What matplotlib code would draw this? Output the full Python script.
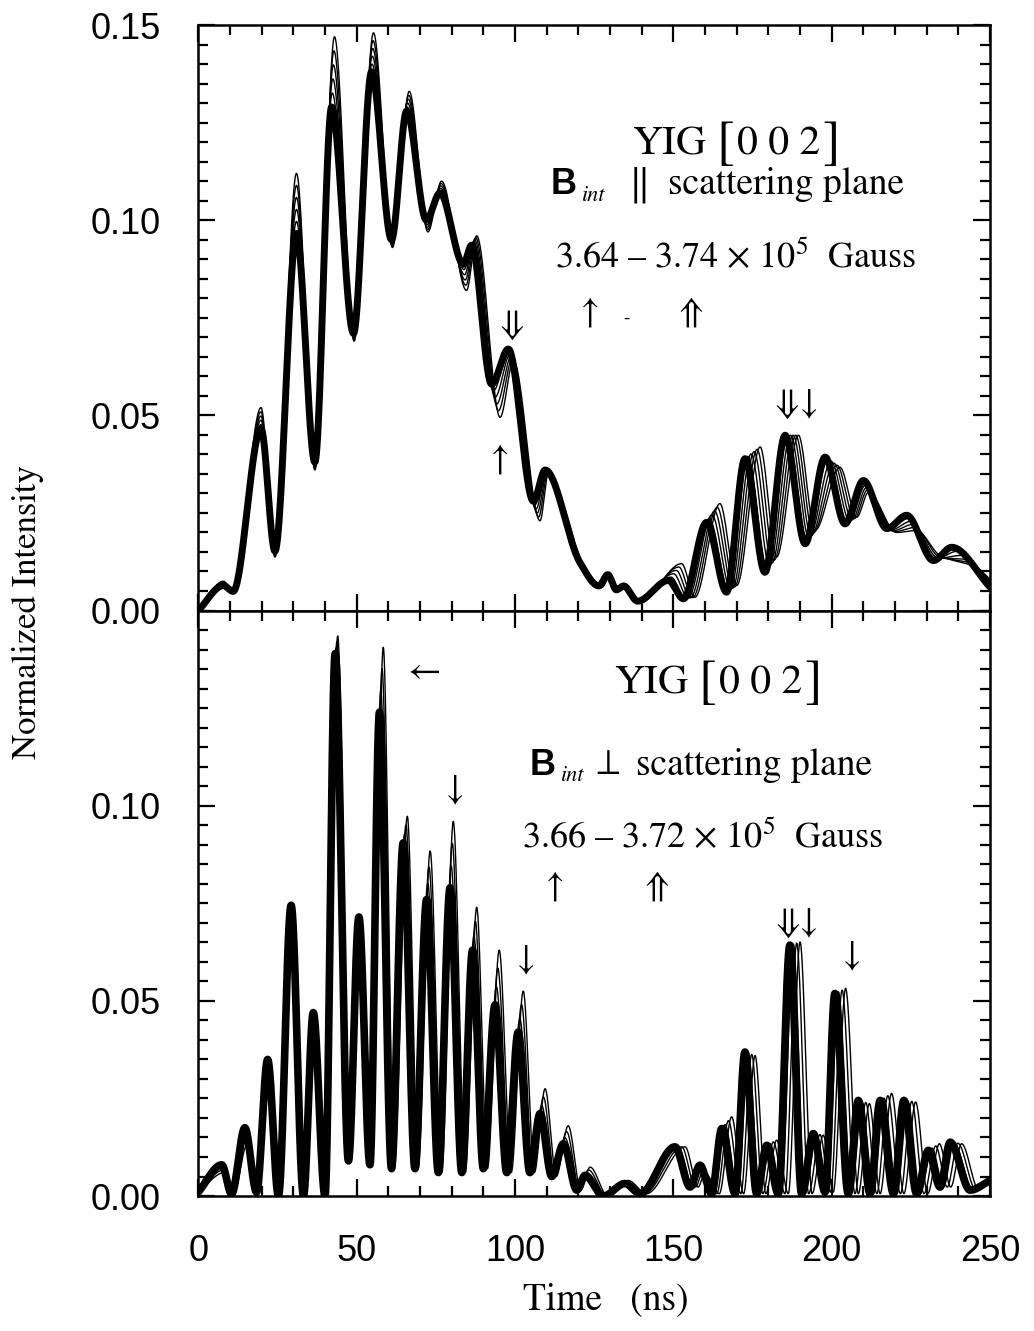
import numpy as np
import matplotlib
matplotlib.use("Agg")
import matplotlib.pyplot as plt
from matplotlib.ticker import MultipleLocator

# ---- data: extrema of the curves (time ns, intensity) ----
# top panel, B_int parallel to scattering plane
top_thick_t = [0.0, 7.9, 11.0, 19.8, 24.2, 31.0, 36.8, 42.1, 49.0, 54.7, 61.0, 65.8,
               72.0, 76.3, 83.7, 86.3, 92.6, 97.9, 105.8, 109.5, 120.5, 126.5, 129.3,
               132.0, 134.3, 138.7, 148.4, 153.2, 160.5, 166.8, 172.6, 178.9, 185.3,
               191.6, 197.9, 204.2, 210.0, 217.4, 223.7, 232.1, 237.9, 250.0]
top_thick_y = [0.0, 0.0064, 0.0049, 0.0466, 0.0152, 0.0966, 0.038, 0.129, 0.071, 0.138,
               0.095, 0.128, 0.100, 0.107, 0.0887, 0.0936, 0.058, 0.067, 0.028, 0.036,
               0.0123, 0.0063, 0.0092, 0.0053, 0.0063, 0.0024, 0.0077, 0.003, 0.0226,
               0.0047, 0.0389, 0.0098, 0.0449, 0.0171, 0.0393, 0.0222, 0.0333, 0.021,
               0.0244, 0.0128, 0.0162, 0.006]
top_thin_t = [0.0, 7.9, 11.0, 19.8, 24.2, 31.0, 36.8, 43.0, 49.2, 55.3, 61.3, 66.6,
              72.5, 76.8, 84.7, 87.9, 95.3, 99.5, 107.9, 110.5, 121.5, 127.5, 130.0,
              132.8, 135.2, 139.5, 152.6, 156.8, 164.7, 170.0, 177.4, 182.6, 189.5,
              194.7, 202.6, 207.9, 211.6, 220.5, 226.8, 234.2, 245.8, 250.0]
top_thin_y = [0.0, 0.0075, 0.005, 0.052, 0.0137, 0.112, 0.036, 0.147, 0.069, 0.148,
              0.093, 0.133, 0.097, 0.110, 0.082, 0.096, 0.0495, 0.064, 0.023, 0.035,
              0.012, 0.006, 0.009, 0.005, 0.006, 0.002, 0.012, 0.0034, 0.0274, 0.0064,
              0.0419, 0.0137, 0.0449, 0.0205, 0.0367, 0.0239, 0.0303, 0.020, 0.0205,
              0.0141, 0.011, 0.008]

# bottom panel, B_int perpendicular to scattering plane
bot_thick_t = [0.0, 7.4, 10.5, 14.7, 18.4, 21.9, 25.3, 29.3, 33.2, 36.3, 40.0, 43.2,
               47.4, 50.7, 54.2, 57.2, 61.0, 64.7, 68.4, 72.1, 75.8, 79.5, 83.2, 86.6,
               90.0, 93.7, 97.4, 101.0, 104.7, 107.9, 111.6, 115.3, 119.5, 122.1, 127.9,
               134.7, 139.5, 150.5, 155.3, 158.4, 162.1, 165.3, 169.5, 172.6, 176.3,
               179.5, 183.1, 186.8, 190.5, 194.2, 197.9, 201.0, 205.2, 208.4, 212.1,
               215.3, 219.5, 222.8, 226.8, 230.5, 234.2, 237.4, 243.7, 250.0]
bot_thick_y = [0.001, 0.008, 0.0005, 0.0175, 0.001, 0.035, 0.0, 0.0745, 0.0, 0.047, 0.0,
               0.139, 0.009, 0.0715, 0.008, 0.124, 0.007, 0.0905, 0.007, 0.076, 0.006,
               0.079, 0.006, 0.063, 0.007, 0.049, 0.006, 0.042, 0.006, 0.0211, 0.005,
               0.0134, 0.0015, 0.0053, 0.0, 0.0032, 0.0006, 0.0126, 0.0023, 0.0079,
               0.0006, 0.0173, 0.0006, 0.0369, 0.0006, 0.013, 0.0006, 0.0643, 0.0006,
               0.016, 0.001, 0.0519, 0.0006, 0.0245, 0.0006, 0.0245, 0.0006, 0.0245,
               0.0006, 0.0117, 0.0023, 0.0138, 0.0015, 0.004]
bot_thin_t = [0.0, 8.2, 11.2, 15.3, 19.0, 22.3, 25.8, 29.6, 33.5, 36.6, 40.4, 44.0,
              48.0, 51.2, 54.8, 58.4, 61.8, 66.0, 69.4, 73.2, 76.9, 80.5, 84.3, 87.9,
              91.3, 95.0, 98.8, 102.6, 106.1, 109.5, 113.0, 116.8, 120.8, 123.7, 129.3,
              135.7, 141.5, 153.7, 157.8, 160.0, 164.5, 168.4, 172.2, 175.8, 179.2,
              182.6, 186.3, 190.0, 193.8, 197.3, 200.5, 204.4, 208.4, 211.9, 215.3,
              218.9, 222.8, 226.5, 230.3, 234.0, 237.6, 241.0, 246.5, 250.0]
bot_thin_y = [0.001, 0.006, 0.0005, 0.013, 0.001, 0.034, 0.0, 0.075, 0.0, 0.047, 0.0,
              0.1435, 0.009, 0.072, 0.008, 0.1406, 0.007, 0.0973, 0.007, 0.0884, 0.006,
              0.096, 0.006, 0.074, 0.007, 0.063, 0.006, 0.0525, 0.006, 0.0275, 0.005,
              0.018, 0.0015, 0.0074, 0.0, 0.004, 0.0006, 0.0126, 0.0023, 0.006, 0.0006,
              0.0203, 0.0006, 0.036, 0.0006, 0.0143, 0.0006, 0.0651, 0.0006, 0.0156,
              0.001, 0.0532, 0.0006, 0.0237, 0.0006, 0.0263, 0.0006, 0.0241, 0.0006,
              0.0134, 0.0023, 0.0134, 0.0015, 0.005]

# field steps between the thick curve and the outermost thin curve
top_steps = [0.2, 0.4, 0.6, 0.8, 1.0]
bot_steps = [0.33, 0.67, 1.0]


def pchip(x, y, xs):
    """monotone cubic through the read extrema, so peaks stay where they were read"""
    x = np.asarray(x, float)
    y = np.asarray(y, float)
    h = np.diff(x)
    d = np.diff(y) / h
    m = np.zeros_like(y)
    for k in range(1, len(x) - 1):
        if d[k - 1] * d[k] > 0:
            w1 = 2 * h[k] + h[k - 1]
            w2 = h[k] + 2 * h[k - 1]
            m[k] = (w1 + w2) / (w1 / d[k - 1] + w2 / d[k])
    m[0] = d[0]
    m[-1] = d[-1]
    i = np.clip(np.searchsorted(x, xs) - 1, 0, len(x) - 2)
    s = (xs - x[i]) / h[i]
    h00 = 2 * s**3 - 3 * s**2 + 1
    h10 = s**3 - 2 * s**2 + s
    h01 = -2 * s**3 + 3 * s**2
    h11 = s**3 - s**2
    return h00 * y[i] + h10 * h[i] * m[i] + h01 * y[i + 1] + h11 * h[i] * m[i + 1]


def draw_panel(ax, tk, yk, tn, yn, steps, lw_thick):
    tk, yk, tn, yn = map(np.asarray, (tk, yk, tn, yn))
    for f in steps:
        tt = (1 - f) * tk + f * tn
        yy = (1 - f) * yk + f * yn
        xs = np.linspace(tt[0], tt[-1], 2500)
        ax.plot(xs, pchip(tt, yy, xs), color="black", lw=1.0)
    xs = np.linspace(tk[0], tk[-1], 2500)
    ax.plot(xs, pchip(tk, yk, xs), color="black", lw=lw_thick,
            solid_capstyle="round", solid_joinstyle="round")


W, H = 1034, 1331
fig = plt.figure(figsize=(W / 100, H / 100), dpi=100)
ax1 = fig.add_axes([0.1918, 0.5413, 0.7657, 0.4399])
ax2 = fig.add_axes([0.1918, 0.1014, 0.7657, 0.4399], sharex=ax1)

draw_panel(ax1, top_thick_t, top_thick_y, top_thin_t, top_thin_y, top_steps, 5.0)
draw_panel(ax2, bot_thick_t, bot_thick_y, bot_thin_t, bot_thin_y, bot_steps, 5.5)

tick_font = {"family": "Liberation Sans", "size": 26}
for ax in (ax1, ax2):
    ax.set_xlim(0, 250)
    ax.set_ylim(0, 0.15)
    ax.xaxis.set_major_locator(MultipleLocator(50))
    ax.xaxis.set_minor_locator(MultipleLocator(10))
    ax.yaxis.set_major_locator(MultipleLocator(0.05))
    ax.yaxis.set_minor_locator(MultipleLocator(0.005))
    ax.tick_params(which="both", direction="in", top=True, right=True, width=1.6)
    ax.tick_params(which="major", length=12, pad=27)
    ax.tick_params(which="minor", length=7)
    for sp in ax.spines.values():
        sp.set_linewidth(1.8)

ax1.set_yticks([0.0, 0.05, 0.10, 0.15])
ax1.set_yticklabels(["0.00", "0.05", "0.10", "0.15"], **tick_font)
ax2.set_yticks([0.0, 0.05, 0.10])
ax2.set_yticklabels(["0.00", "0.05", "0.10"], **tick_font)
ax1.tick_params(labelbottom=False)
ax2.set_xticks([0, 50, 100, 150, 200, 250])
ax2.set_xticklabels(["0", "50", "100", "150", "200", "250"], **tick_font)


def px(x, y):
    return x / W, 1 - y / H


serif = "STIXGeneral"
plt.rcParams["mathtext.fontset"] = "stix"


def label_block(y_yig, x_yig, y_b, x_b, sym, y_g, x_g, gauss):
    fig.text(*px(x_yig, y_yig), "YIG", family=serif, fontsize=30, ha="left", va="center")
    fig.text(*px(x_yig + 84, y_yig), "[", family=serif, fontsize=38, ha="left",
             va="center")
    fig.text(*px(x_yig + 105, y_yig), "0 0 2", family=serif, fontsize=30, ha="left",
             va="center")
    fig.text(*px(x_yig + 190, y_yig), "]", family=serif, fontsize=38, ha="left",
             va="center")
    fig.text(*px(x_b, y_b), "B", family="Liberation Sans", fontweight="bold",
             fontsize=26, ha="left", va="center")
    fig.text(*px(x_b + 31, y_b + 11), "int", family=serif, style="italic",
             fontsize=16, ha="left", va="center")
    sym_dx, sym_txt, sym_fs = sym
    fig.text(*px(x_b + sym_dx, y_b), sym_txt, family=serif, fontsize=sym_fs,
             ha="center", va="center")
    fig.text(*px(x_b + sym_dx + 28, y_b), "scattering plane", family=serif,
             fontsize=27, ha="left", va="center")
    fig.text(*px(x_g, y_g), gauss, family=serif, fontsize=26, ha="left", va="center")


label_block(145, 632, 185, 551, (89, "\u2016", 30), 258, 555,
            r"3.64 – 3.74 $\times$ 10$^{5}$  Gauss")
label_block(684, 614, 765, 530, (78, "\u22a5", 26), 838, 522,
            r"3.66 – 3.72 $\times$ 10$^{5}$  Gauss")

arrows = [
    (512, 325, "\u21d3"), (500, 460, "\u2191"), (590, 313, "\u2191"),
    (691, 313, "\u21d1"), (787, 404, "\u21d3"), (809, 404, "\u2193"),
    (424, 673, "\u2190"), (455, 790, "\u2193"), (526, 960, "\u2193"),
    (555, 887, "\u2191"), (657, 887, "\u21d1"), (797, 923, "\u21d3\u2193"),
    (852, 956, "\u2193"),
]
for x, y, s in arrows:
    fig.text(*px(x, y), s, family=serif, fontsize=26, ha="center", va="center")
fig.text(*px(627, 318), "-", family=serif, fontsize=14, ha="center", va="center")

fig.text(*px(28, 612), "Normalized Intensity", family=serif, fontsize=25,
         rotation=90, ha="center", va="center")
fig.text(*px(606, 1300), "Time   (ns)", family=serif, fontsize=27,
         ha="center", va="center")

fig.savefig("out.png", dpi=100)
